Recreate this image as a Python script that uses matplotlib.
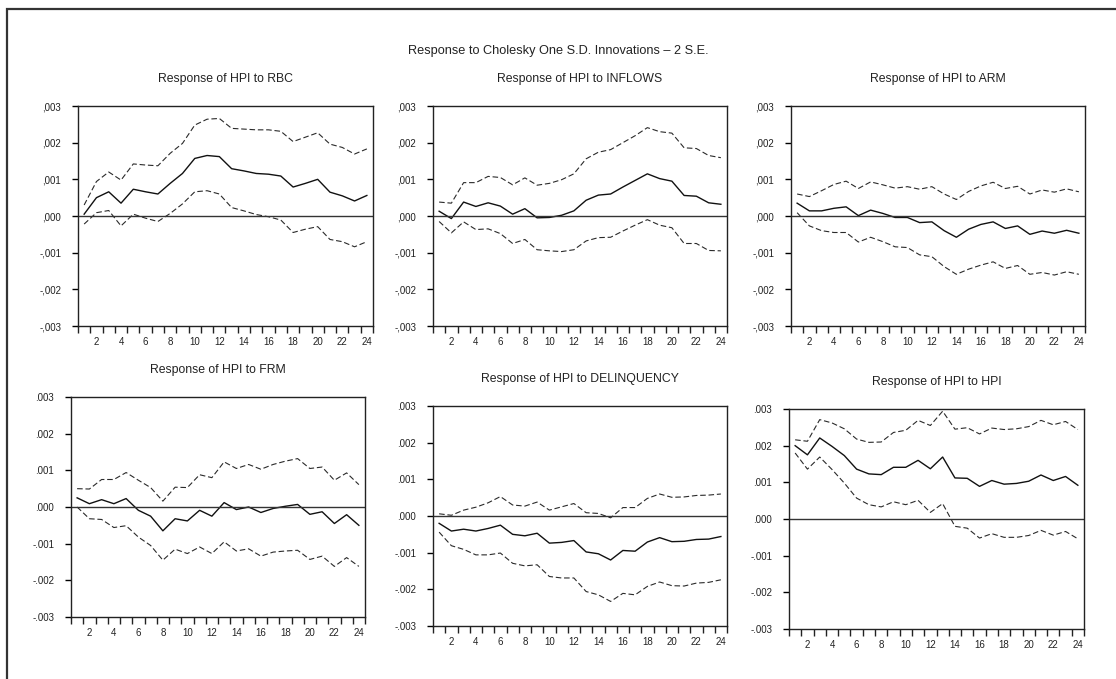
import matplotlib
matplotlib.use("Agg")
import matplotlib.pyplot as plt
from matplotlib.ticker import FixedLocator, FuncFormatter
from matplotlib.patches import Rectangle

plt.rcParams['font.family'] = ['Liberation Sans Narrow', 'Liberation Sans', 'DejaVu Sans']

periods = list(range(1, 25))

titulos = ["Response of HPI to RBC", "Response of HPI to INFLOWS", "Response of HPI to ARM",
           "Response of HPI to FRM", "Response of HPI to DELINQUENCY", "Response of HPI to HPI"]

rbc = [0.00005, 0.0005, 0.00066, 0.00035, 0.00073, 0.00066, 0.0006, 0.00089, 0.00116, 0.00157, 0.00165, 0.00162,
       0.00129, 0.00123, 0.00116, 0.00114, 0.00109, 0.00079, 0.00089, 0.001, 0.00065, 0.00055, 0.00041, 0.00056]
rbc_up = [0.0003, 0.00094, 0.0012, 0.00098, 0.00142, 0.00139, 0.00137, 0.00171, 0.00198, 0.00248, 0.00264, 0.00266,
          0.00239, 0.00237, 0.00235, 0.00235, 0.00231, 0.00203, 0.00215, 0.00227, 0.00196, 0.00187, 0.00169, 0.00183]
rbc_lo = [-0.00022, 0.00009, 0.00015, -0.00027, 0.00005, -0.00006, -0.00015, 0.00007, 0.00033, 0.00066, 0.00069, 0.0006,
          0.00023, 0.00014, 0.00004, -0.00002, -0.00011, -0.00045, -0.00036, -0.00029, -0.00064, -0.0007, -0.00084, -0.0007]

inflows = [0.00013, -0.00007, 0.00038, 0.00026, 0.00036, 0.00027, 0.00005, 0.0002, -0.00005, -0.00004, 0.00002, 0.00014,
           0.00043, 0.00057, 0.0006, 0.00079, 0.00097, 0.00115, 0.00102, 0.00095, 0.00056, 0.00054, 0.00036, 0.00032]
inflows_up = [0.00038, 0.00035, 0.00091, 0.00091, 0.00108, 0.00105, 0.00085, 0.00104, 0.00084, 0.00089, 0.00099, 0.00115,
              0.00156, 0.00174, 0.00181, 0.002, 0.00219, 0.00241, 0.0023, 0.00226, 0.00186, 0.00184, 0.00165, 0.00159]
inflows_lo = [-0.00015, -0.00046, -0.00016, -0.00037, -0.00035, -0.00048, -0.00075, -0.00064, -0.00092, -0.00095, -0.00097, -0.00092,
              -0.00068, -0.00059, -0.00058, -0.00041, -0.00025, -0.0001, -0.00025, -0.00032, -0.00075, -0.00075, -0.00094, -0.00095]

arm = [0.00035, 0.00014, 0.00014, 0.00021, 0.00025, 0.00001, 0.00016, 0.00007, -0.00004, -0.00004, -0.00018, -0.00016,
       -0.0004, -0.00058, -0.00036, -0.00023, -0.00016, -0.00034, -0.00027, -0.0005, -0.00041, -0.00047, -0.00039, -0.00047]
arm_up = [0.0006, 0.00053, 0.00069, 0.00086, 0.00095, 0.00075, 0.00093, 0.00085, 0.00076, 0.0008, 0.00073, 0.0008,
          0.0006, 0.00045, 0.00067, 0.00082, 0.00092, 0.00075, 0.00081, 0.0006, 0.00071, 0.00065, 0.00074, 0.00066]
arm_lo = [0.00009, -0.00027, -0.0004, -0.00045, -0.00045, -0.00071, -0.00058, -0.0007, -0.00084, -0.00086, -0.00106, -0.00111,
          -0.00138, -0.00159, -0.00145, -0.00134, -0.00125, -0.00143, -0.00135, -0.00159, -0.00154, -0.00161, -0.00152, -0.00159]

frm = [0.00025, 0.00009, 0.0002, 0.00009, 0.00023, -0.00009, -0.00025, -0.00065, -0.00032, -0.00038, -0.00009, -0.00025,
       0.00012, -0.00007, 0.0, -0.00015, -0.00004, 0.00002, 0.00007, -0.0002, -0.00013, -0.00045, -0.00021, -0.0005]
frm_up = [0.0005, 0.00049, 0.00075, 0.00075, 0.00094, 0.00073, 0.00053, 0.00016, 0.00054, 0.00053, 0.00088, 0.0008,
          0.00123, 0.00105, 0.00116, 0.00103, 0.00116, 0.00125, 0.00132, 0.00105, 0.00109, 0.00073, 0.00093, 0.00061]
frm_lo = [0.0, -0.00032, -0.00034, -0.00056, -0.00051, -0.00082, -0.00105, -0.00145, -0.00115, -0.00127, -0.00109, -0.00127,
          -0.00095, -0.0012, -0.00114, -0.00134, -0.00123, -0.0012, -0.00118, -0.00143, -0.00134, -0.00162, -0.00138, -0.00162]

delinq = [-0.0002, -0.00041, -0.00036, -0.00041, -0.00034, -0.00025, -0.0005, -0.00054, -0.00047, -0.00074, -0.00072, -0.00067,
          -0.00098, -0.00103, -0.0012, -0.00094, -0.00096, -0.00071, -0.00059, -0.0007, -0.00069, -0.00064, -0.00063, -0.00056]
delinq_up = [0.00006, 0.00002, 0.00016, 0.00024, 0.00036, 0.00053, 0.0003, 0.00027, 0.00038, 0.00016, 0.00025, 0.00034,
             0.00009, 0.00007, -0.00005, 0.00023, 0.00023, 0.00048, 0.0006, 0.00051, 0.00052, 0.00056, 0.00057, 0.0006]
delinq_lo = [-0.00044, -0.00081, -0.00091, -0.00106, -0.00106, -0.00101, -0.00129, -0.00136, -0.00133, -0.00165, -0.00169, -0.00169,
             -0.00206, -0.00215, -0.00233, -0.00211, -0.00215, -0.00192, -0.0018, -0.0019, -0.00191, -0.00183, -0.00181, -0.00174]

hpi = [0.002, 0.00175, 0.00221, 0.00198, 0.00173, 0.00136, 0.00123, 0.00121, 0.00141, 0.00141, 0.0016, 0.00137,
       0.00169, 0.00112, 0.00111, 0.00089, 0.00105, 0.00095, 0.00097, 0.00103, 0.0012, 0.00105, 0.00116, 0.00092]
hpi_up = [0.00216, 0.00212, 0.00271, 0.00262, 0.00246, 0.00218, 0.00209, 0.0021, 0.00236, 0.00242, 0.00269, 0.00255,
          0.00294, 0.00245, 0.00249, 0.00232, 0.00248, 0.00244, 0.00246, 0.00252, 0.00269, 0.00257, 0.00266, 0.00244]
hpi_lo = [0.0018, 0.00136, 0.00169, 0.00135, 0.00098, 0.00057, 0.00039, 0.00033, 0.00047, 0.00039, 0.00051, 0.00018,
          0.00042, -0.0002, -0.00025, -0.00052, -0.0004, -0.0005, -0.0005, -0.00045, -0.00031, -0.00044, -0.00034, -0.00054]

respuestas = [rbc, inflows, arm, frm, delinq, hpi]
superiores = [rbc_up, inflows_up, arm_up, frm_up, delinq_up, hpi_up]
inferiores = [rbc_lo, inflows_lo, arm_lo, frm_lo, delinq_lo, hpi_lo]

W, H = 1116, 679
# caja de cada panel en pixeles: izquierda, derecha, arriba, abajo
cajas = [(78, 373, 106, 326), (433, 727, 106, 326), (791, 1085, 106, 326),
         (71, 365, 397, 617), (433, 727, 406, 626), (789, 1084, 409, 629)]
sep = [',', ',', ',', '.', '.', '.']

fig = plt.figure(figsize=(W / 100, H / 100), dpi=100)
fig.patches.append(Rectangle((7 / W, -0.1), 1.2, 1 - 9 / H + 0.1, transform=fig.transFigure,
                             fill=False, edgecolor='#333333', linewidth=1.6))
fig.text(558 / W, 1 - 51 / H, "Response to Cholesky One S.D. Innovations \u2013 2 S.E.",
         ha='center', va='center', fontsize=9.2, color='#222222')

for i in range(6):
    l, r, t, b = cajas[i]
    ax = fig.add_axes([l / W, 1 - b / H, (r - l) / W, (b - t) / H])
    ax.plot(periods, superiores[i], color='#2a2a2a', lw=0.8, ls=(0, (5, 2.5)))
    ax.plot(periods, inferiores[i], color='#2a2a2a', lw=0.8, ls=(0, (5, 2.5)))
    ax.plot(periods, respuestas[i], color='#111111', lw=1.0)
    ax.axhline(0, color='#333333', lw=1.0)
    ax.set_xlim(0.5, 24.5)
    ax.set_ylim(-0.003, 0.003)
    ax.set_yticks([-0.003, -0.002, -0.001, 0, 0.001, 0.002, 0.003])
    s = sep[i]
    ax.yaxis.set_major_formatter(FuncFormatter(
        lambda v, p, s=s: ('-' if v < -1e-9 else '') + s + '%03d' % round(abs(v) * 1000000 / 1000)))
    ax.xaxis.set_major_locator(FixedLocator(list(range(2, 25, 2))))
    ax.xaxis.set_minor_locator(FixedLocator([k + 0.5 for k in range(0, 25)]))
    ax.tick_params(axis='x', which='major', length=0, pad=8, labelsize=7, labelcolor='#222222')
    ax.tick_params(axis='x', which='minor', length=5, width=1.0, direction='out', color='#222222')
    ax.tick_params(axis='y', length=4, width=1.0, direction='out', labelsize=7, labelcolor='#222222', pad=8)
    for sp in ax.spines.values():
        sp.set_linewidth(1.0)
        sp.set_color('#222222')
    ax.set_title(titulos[i], fontsize=8.8, color='#222222', pad=17)

fig.savefig("out.png", dpi=100)
